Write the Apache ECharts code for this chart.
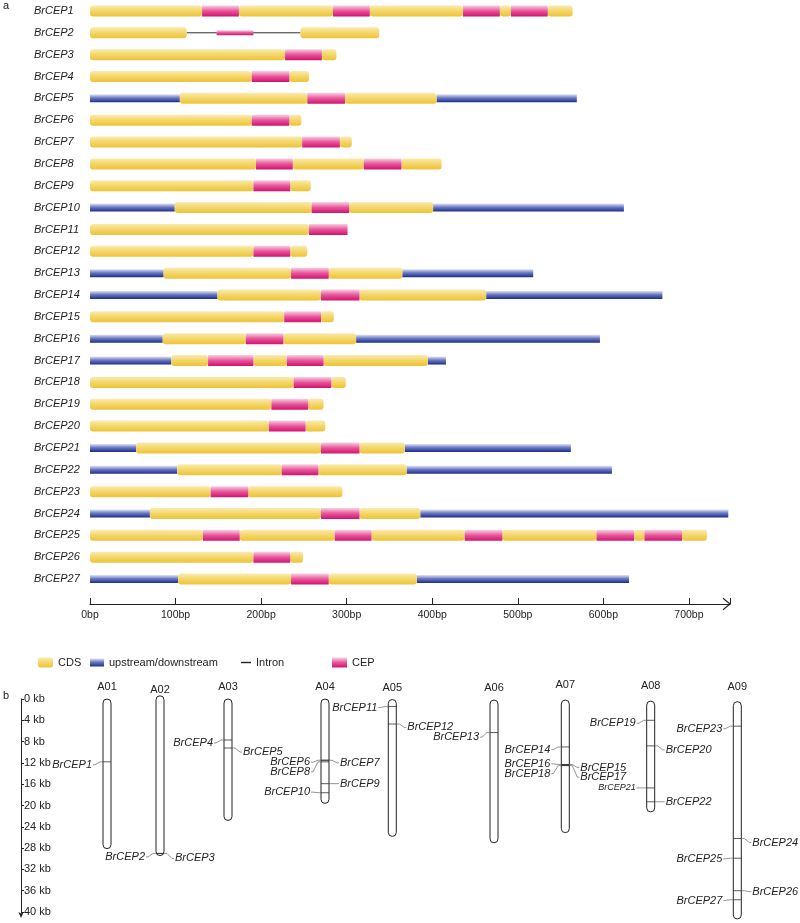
<!DOCTYPE html>
<html>
<head>
<meta charset="utf-8">
<script src="https://cdn.jsdelivr.net/npm/echarts@6/dist/echarts.min.js"></script>
<style>
html,body{margin:0;padding:0;background:#fff;}
#main{width:800px;height:923px;}
</style>
</head>
<body>
<div id="main"></div>
<script>
// ---------------- DATA ----------------
const genes = ['BrCEP1','BrCEP2','BrCEP3','BrCEP4','BrCEP5','BrCEP6','BrCEP7','BrCEP8','BrCEP9','BrCEP10',
  'BrCEP11','BrCEP12','BrCEP13','BrCEP14','BrCEP15','BrCEP16','BrCEP17','BrCEP18','BrCEP19','BrCEP20',
  'BrCEP21','BrCEP22','BrCEP23','BrCEP24','BrCEP25','BrCEP26','BrCEP27'];
const bpTicks = [0,100,200,300,400,500,600,700];

// [geneIndex, start(bp), end(bp)]
const cdsSegments = [
  [0,0,131],[0,174,284],[0,327,436],[0,479,492],[0,535,564],
  [1,0,113],[1,246,338],
  [2,0,228],[2,271,288],
  [3,0,189],[3,233,256],
  [4,105,254],[4,298,405],
  [5,0,189],[5,233,247],
  [6,0,248],[6,292,306],
  [7,0,194],[7,237,320],[7,364,411],
  [8,0,191],[8,234,258],
  [9,99,259],[9,303,401],
  [10,0,256],
  [11,0,191],[11,234,254],
  [12,86,235],[12,279,365],
  [13,149,270],[13,315,463],
  [14,0,227],[14,270,285],
  [15,85,182],[15,226,311],
  [16,95,138],[16,191,230],[16,273,395],
  [17,0,238],[17,282,299],
  [18,0,212],[18,255,273],
  [19,0,209],[19,252,275],
  [20,54,270],[20,315,368],
  [21,102,224],[21,267,370],
  [22,0,141],[22,185,295],
  [23,70,270],[23,315,386],
  [24,0,132],[24,175,286],[24,329,438],[24,482,592],[24,636,648],[24,692,721],
  [25,0,191],[25,234,249],
  [26,103,235],[26,279,382]
];
const utrSegments = [
  [4,0,105],[4,405,569],
  [9,0,99],[9,401,624],
  [12,0,86],[12,365,518],
  [13,0,149],[13,463,669],
  [15,0,85],[15,311,596],
  [16,0,95],[16,395,416],
  [20,0,54],[20,368,562],
  [21,0,102],[21,370,610],
  [23,0,70],[23,386,746],
  [26,0,103],[26,382,630]
];
const intronSegments = [[1,113,246]];
const cepSegments = [
  [0,131,174],[0,284,327],[0,436,479],[0,492,535],
  [1,148,191],
  [2,228,271],[3,189,233],[4,254,298],[5,189,233],[6,248,292],
  [7,194,237],[7,320,364],[8,191,234],[9,259,303],[10,256,301],[11,191,234],
  [12,235,279],[13,270,315],[14,227,270],[15,182,226],
  [16,138,191],[16,230,273],
  [17,238,282],[18,212,255],[19,209,252],[20,270,315],[21,224,267],[22,141,185],[23,270,315],
  [24,132,175],[24,286,329],[24,438,482],[24,592,636],[24,648,692],
  [25,191,234],[26,235,279]
];

// Panel b: chromosomes
const chromNames = ['A01','A02','A03','A04','A05','A06','A07','A08','A09'];
const chromStartKb = [0,-0.6,0,0,0.1,0.2,0.2,0.4,0.5];
const chromEndKb = [28.1,29.4,22.8,19.6,25.8,27.0,25.1,21.2,41.3];
const kbTicks = [0,4,8,12,16,20,24,28,32,36,40];
// gene locations
const geneChrom = [0,1,1,2,2,3,3,3,3,3,4,4,5,6,6,6,6,6,7,7,7,7,8,8,8,8,8];
const geneKb = [11.8,29.0,29.0,7.7,9.2,11.5,11.5,11.8,15.9,17.6,1.4,4.7,6.3,9.0,12.3,12.3,12.5,12.5,4.0,8.8,16.7,19.3,5.1,26.2,29.9,36.0,37.7];
const geneSide = ['L','L','R','L','R','L','R','L','R','L','L','R','L','L','R','L','R','L','L','R','L','R','L','R','L','R','L'];

// ---------------- LAYOUT (not data) ----------------
const chromX = [107,160,228,325,392.3,494,565.3,650.7,737.3];
const chromLabelY = [-12,-9.5,-12,-12,-11,-11,-14,-13,-12];
const labelDy = [3,3.5,5,3,4,2,2.6,10,0,-0.6,1,3.4,4.6,2.7,3,-0.7,11.6,8,3,4,0,0,2.6,4,0.6,1,0.7];
const labelFont = [11,11,11,11,11,11,11,11,11,11,11,11,11,11,11,11,11,11,11,11,9,11,11,11,11,11,11];
const FONT = "'Liberation Sans', Arial, Helvetica, sans-serif";

const G = echarts.graphic;
const gradCds = new G.LinearGradient(0,0,0,1,[{offset:0,color:'#faebb0'},{offset:0.5,color:'#f4d668'},{offset:1,color:'#edc238'}]);
const gradUtr = new G.LinearGradient(0,0,0,1,[{offset:0,color:'#dfe2f5'},{offset:0.45,color:'#6c79c3'},{offset:1,color:'#1d2c8a'}]);
const gradCep = new G.LinearGradient(0,0,0,1,[{offset:0,color:'#f9d0e2'},{offset:0.5,color:'#e7559a'},{offset:1,color:'#d2126d'}]);

function inIntron(row, s, e) {
  return intronSegments.some(d => d[0] === row && s >= d[1] && e <= d[2]);
}

function segRender(kind) {
  return function (params, api) {
    const s = api.value(0), e = api.value(1), row = api.value(2);
    const p0 = api.coord([s, row]), p1 = api.coord([e, row]);
    if (kind === 'intron') {
      return {type:'line', shape:{x1:p0[0], y1:p0[1], x2:p1[0], y2:p1[1]}, style:{stroke:'#333', lineWidth:1}};
    }
    let h = 11, r = 0, fill = gradCds;
    if (kind === 'cds') { r = 3; }
    if (kind === 'utr') { h = 8; fill = gradUtr; }
    if (kind === 'cep') { fill = gradCep; if (inIntron(row, s, e)) h = 5; }
    return {type:'rect', shape:{x:p0[0], y:p0[1]-h/2, width:p1[0]-p0[0], height:h, r:r}, style:{fill:fill}};
  };
}

function chromRender(params, api) {
  const i = params.dataIndex;
  const top = api.coord([chromX[i], chromStartKb[i]]);
  const bot = api.coord([chromX[i], chromEndKb[i]]);
  const ref = api.coord([chromX[i], 0]);
  return {type:'group', children:[
    {type:'rect', shape:{x:top[0]-4, y:top[1], width:8, height:bot[1]-top[1], r:4},
     style:{fill:'#fff', stroke:'#222', lineWidth:1}},
    {type:'text', x:top[0], y:ref[1]+chromLabelY[i], style:{text:chromNames[i], fill:'#222', fontSize:11, fontFamily:FONT, align:'center', verticalAlign:'middle'}}
  ]};
}

function geneRender(params, api) {
  const g = params.dataIndex;
  const c = api.coord([chromX[geneChrom[g]], geneKb[g]]);
  const cx = c[0], y = c[1];
  const left = geneSide[g] === 'L';
  const dir = left ? -1 : 1;
  const edge = cx + dir * 4;
  const ly = y + labelDy[g];
  return {type:'group', children:[
    {type:'line', shape:{x1:cx-4, y1:y, x2:cx+4, y2:y}, style:{stroke:'#333', lineWidth:0.8}},
    {type:'polyline', shape:{points:[[edge,y],[edge+dir*3,y],[edge+dir*8,ly],[edge+dir*10,ly]]}, style:{stroke:'#666', lineWidth:0.7, fill:null}},
    {type:'text', x:edge+dir*11, y:ly, style:{text:genes[g], fill:'#222', fontSize:labelFont[g], fontStyle:'italic', fontFamily:FONT, align:left?'right':'left', verticalAlign:'middle'}}
  ]};
}

const chart = echarts.init(document.getElementById('main'), null, {renderer:'canvas'});
const chevron = 'path://M0,8 L6.5,0 L13,8 L11.4,8 L6.5,1.9 L1.6,8 Z';

const option = {
  backgroundColor:'#fff',
  animation:false,
  textStyle:{fontFamily:FONT},
  grid:[
    {left:90, right:70, top:-4, height:594},
    {left:21, right:0, top:699, height:213}
  ],
  xAxis:[
    {gridIndex:0, type:'value', min:0, max:748, interval:100, offset:14,
     splitLine:{show:false},
     axisLine:{show:true, lineStyle:{color:'#222', width:1}, symbol:['none', chevron], symbolSize:[13,8], symbolOffset:[0,-3]},
     axisTick:{show:true, inside:true, length:6, lineStyle:{color:'#222'}},
     axisLabel:{formatter: v => bpTicks.indexOf(v) >= 0 ? v + 'bp' : '', color:'#222', fontSize:10.5, margin:6, fontFamily:FONT}},
    {gridIndex:1, type:'value', min:21, max:800, show:false}
  ],
  yAxis:[
    {gridIndex:0, type:'category', data:genes, inverse:true,
     axisLine:{show:false}, axisTick:{show:false}, splitLine:{show:false},
     axisLabel:{align:'left', margin:56, fontStyle:'italic', fontSize:11, color:'#222', fontFamily:FONT}},
    {gridIndex:1, type:'value', min:0, max:40, interval:4, inverse:true,
     splitLine:{show:false},
     axisLine:{show:true, lineStyle:{color:'#222', width:1}, symbol:['arrow','none'], symbolSize:[4,6], symbolOffset:[-6,0]},
     axisTick:{show:true, inside:true, length:3, lineStyle:{color:'#222'}},
     axisLabel:{inside:true, margin:3, formatter: v => kbTicks.indexOf(v) >= 0 ? v + ' kb' : '', color:'#222', fontSize:11, fontFamily:FONT}}
  ],
  legend:[
    {data:['CDS'], left:33, top:652, icon:'roundRect', itemWidth:15, itemHeight:10, textStyle:{fontSize:11, color:'#222'}},
    {data:['upstream/downstream'], left:85, top:652, icon:'rect', itemWidth:14, itemHeight:8, textStyle:{fontSize:11, color:'#222'}},
    {data:['Intron'], left:236, top:652, icon:'rect', itemWidth:10, itemHeight:1.4, textStyle:{fontSize:11, color:'#222'}},
    {data:['CEP'], left:327, top:652, icon:'rect', itemWidth:15, itemHeight:10, textStyle:{fontSize:11, color:'#222'}}
  ],
  graphic:[
    {type:'text', left:3, top:0, style:{text:'a', fontSize:11, fill:'#222', fontFamily:FONT}},
    {type:'text', left:3, top:690, style:{text:'b', fontSize:11, fill:'#222', fontFamily:FONT}}
  ],
  series:[
    {name:'Intron', type:'custom', xAxisIndex:0, yAxisIndex:0, renderItem:segRender('intron'), itemStyle:{color:'#222'},
     encode:{x:[0,1], y:2}, data:intronSegments.map(d => [d[1], d[2], d[0]])},
    {name:'upstream/downstream', type:'custom', xAxisIndex:0, yAxisIndex:0, renderItem:segRender('utr'), itemStyle:{color:gradUtr},
     encode:{x:[0,1], y:2}, data:utrSegments.map(d => [d[1], d[2], d[0]])},
    {name:'CDS', type:'custom', xAxisIndex:0, yAxisIndex:0, renderItem:segRender('cds'), itemStyle:{color:gradCds},
     encode:{x:[0,1], y:2}, data:cdsSegments.map(d => [d[1], d[2], d[0]])},
    {name:'CEP', type:'custom', xAxisIndex:0, yAxisIndex:0, renderItem:segRender('cep'), itemStyle:{color:gradCep},
     encode:{x:[0,1], y:2}, data:cepSegments.map(d => [d[1], d[2], d[0]])},
    {name:'chromosomes', type:'custom', xAxisIndex:1, yAxisIndex:1, renderItem:chromRender, clip:false,
     encode:{x:0, y:1}, data:chromNames.map((n,i) => [chromX[i], chromStartKb[i]])},
    {name:'genes', type:'custom', xAxisIndex:1, yAxisIndex:1, renderItem:geneRender, clip:false, z:3,
     encode:{x:0, y:1}, data:geneKb.map((kb,i) => [chromX[geneChrom[i]], kb])}
  ]
};
chart.setOption(option);
</script>
</body>
</html>
